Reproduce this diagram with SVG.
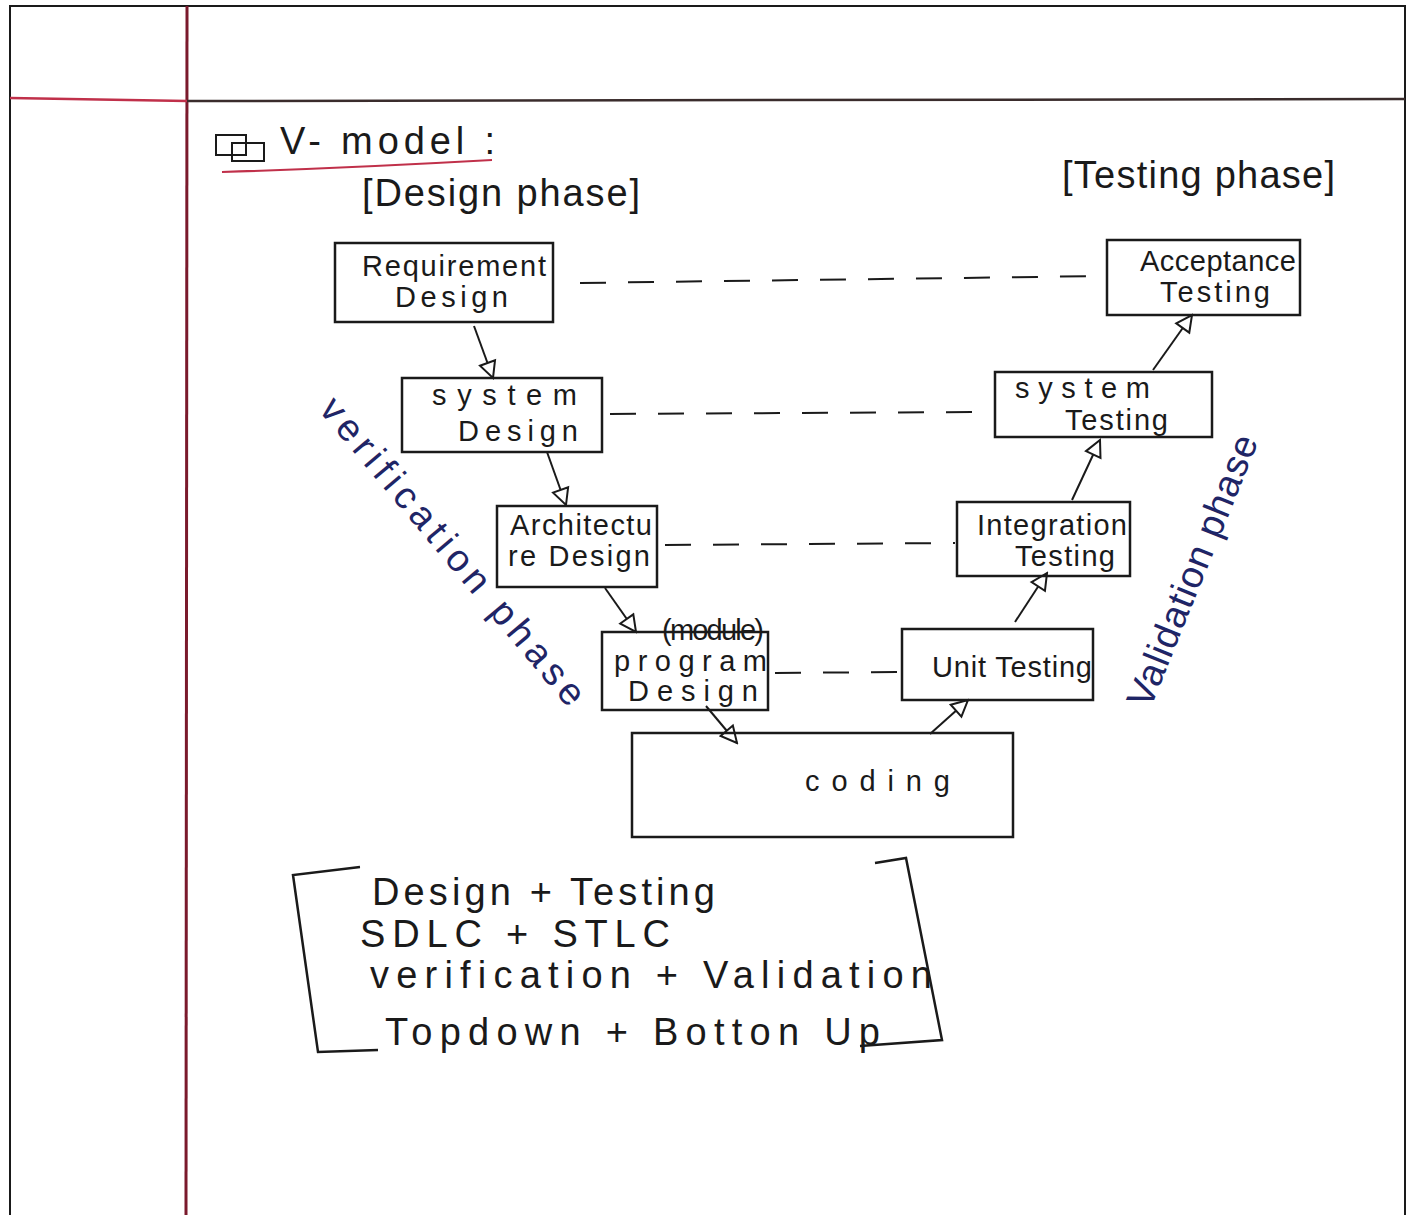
<svg xmlns="http://www.w3.org/2000/svg" width="1410" height="1215" viewBox="0 0 1410 1215">
<defs>
<style>
.page{fill:#ffffff}
.box{fill:none;stroke:#1a1a1a;stroke-width:2.5}
.t{font-family:"Liberation Sans","DejaVu Sans",sans-serif;fill:#1a1a1a;font-size:29px}
.h{font-family:"Liberation Sans","DejaVu Sans",sans-serif;fill:#1a1a1a;font-size:38px}
.blue{font-family:"Liberation Sans","DejaVu Sans",sans-serif;fill:#1f2566;font-size:38px}
.arr{stroke:#1a1a1a;stroke-width:2;fill:none;marker-end:url(#tri)}
.dash{stroke:#1a1a1a;stroke-width:2;fill:none;stroke-dasharray:26 22}
</style>
<marker id="tri" viewBox="0 0 20 20" refX="18" refY="10" markerWidth="20" markerHeight="20" markerUnits="userSpaceOnUse" orient="auto">
<path d="M2,2 L18,10 L2,18 Z" fill="#fff" stroke="#1a1a1a" stroke-width="2"/>
</marker>
</defs>
<rect class="page" x="0" y="0" width="1410" height="1215"/>
<g id="frame">
<path d="M10,1215 L10,6 L1405,6 L1405,1215" fill="none" stroke="#1a1a1a" stroke-width="2"/>
<line x1="187" y1="6" x2="186" y2="1215" stroke="#7a1a2c" stroke-width="3"/>
<line x1="10" y1="98" x2="187" y2="101" stroke="#c0304a" stroke-width="2.5"/>
<line x1="187" y1="101" x2="1405" y2="99" stroke="#3a2c2c" stroke-width="2.5"/>
</g>
<g id="title">
<rect x="216" y="135" width="30" height="20" fill="none" stroke="#1a1a1a" stroke-width="2"/>
<rect x="232" y="143" width="32" height="18" fill="none" stroke="#1a1a1a" stroke-width="2"/>
<text class="h" x="280" y="154" font-size="40" textLength="215" lengthAdjust="spacing">V- model :</text>
<path d="M222,172 Q350,168 492,160" fill="none" stroke="#c0304a" stroke-width="2"/>
<text class="h" x="362" y="206" textLength="278" lengthAdjust="spacing">[Design phase]</text>
<text class="h" x="1062" y="188" textLength="273" lengthAdjust="spacing">[Testing phase]</text>
</g>
<g id="connectors">
<line class="dash" x1="580" y1="283" x2="1105" y2="276"/>
<line class="dash" x1="610" y1="414" x2="993" y2="412"/>
<line class="dash" x1="665" y1="545" x2="955" y2="543"/>
<line class="dash" x1="775" y1="673" x2="900" y2="672"/>
<line class="arr" x1="474" y1="326" x2="493" y2="378"/>
<line class="arr" x1="547" y1="452" x2="566" y2="505"/>
<line class="arr" x1="605" y1="588" x2="636" y2="632"/>
<line class="arr" x1="706" y1="706" x2="737" y2="743"/>
<line class="arr" x1="930" y1="734" x2="968" y2="700"/>
<line class="arr" x1="1015" y1="622" x2="1047" y2="573"/>
<line class="arr" x1="1072" y1="500" x2="1100" y2="440"/>
<line class="arr" x1="1153" y1="370" x2="1192" y2="315"/>
</g>
<g id="req-design">
<rect class="box" x="335" y="243" width="218" height="79"/>
<text class="t" x="362" y="276" textLength="184" lengthAdjust="spacing">Requirement</text>
<text class="t" x="395" y="307" font-size="31" textLength="113" lengthAdjust="spacing">Design</text>
</g>
<g id="system-design">
<rect class="box" x="402" y="378" width="200" height="74"/>
<text class="t" x="432" y="405" font-size="32" textLength="145" lengthAdjust="spacing">system</text>
<text class="t" x="458" y="441" font-size="31" textLength="120" lengthAdjust="spacing">Design</text>
</g>
<g id="arch-design">
<rect class="box" x="497" y="506" width="160" height="81"/>
<text class="t" x="510" y="535" font-size="27" textLength="142" lengthAdjust="spacing">Architectu</text>
<text class="t" x="508" y="566" font-size="25" textLength="142" lengthAdjust="spacing">re Design</text>
</g>
<g id="program-design">
<rect class="box" x="602" y="632" width="166" height="78"/>
<text class="t" x="662" y="640" font-size="15" textLength="102" lengthAdjust="spacing">(module)</text>
<text class="t" x="614" y="671" font-size="29" textLength="153" lengthAdjust="spacing">program</text>
<text class="t" x="628" y="701" font-size="30" textLength="130" lengthAdjust="spacing">Design</text>
</g>
<g id="coding">
<rect class="box" x="632" y="733" width="381" height="104"/>
<text class="t" x="805" y="791" font-size="40" textLength="145" lengthAdjust="spacing">coding</text>
</g>
<g id="unit-testing">
<rect class="box" x="902" y="629" width="191" height="71"/>
<text class="t" x="932" y="677" font-size="30" textLength="160" lengthAdjust="spacing">Unit Testing</text>
</g>
<g id="integration-testing">
<rect class="box" x="957" y="502" width="173" height="74"/>
<text class="t" x="977" y="535" font-size="28" textLength="150" lengthAdjust="spacing">Integration</text>
<text class="t" x="1015" y="566" font-size="28" textLength="100" lengthAdjust="spacing">Testing</text>
</g>
<g id="system-testing">
<rect class="box" x="995" y="372" width="217" height="65"/>
<text class="t" x="1015" y="398" font-size="30" textLength="135" lengthAdjust="spacing">system</text>
<text class="t" x="1065" y="430" font-size="26" textLength="103" lengthAdjust="spacing">Testing</text>
</g>
<g id="acceptance-testing">
<rect class="box" x="1107" y="240" width="193" height="75"/>
<text class="t" x="1140" y="271" font-size="30" textLength="156" lengthAdjust="spacing">Acceptance</text>
<text class="t" x="1160" y="302" font-size="30" textLength="110" lengthAdjust="spacing">Testing</text>
</g>
<g id="phase-labels">
<text class="blue" transform="translate(318,410) rotate(50)" textLength="390" lengthAdjust="spacing">verification phase</text>
<text class="blue" transform="translate(1150,710) rotate(-68)" textLength="290" lengthAdjust="spacing">Validation phase</text>
</g>
<g id="summary">
<path d="M360,867 L293,875 L318,1052 L378,1050" fill="none" stroke="#1a1a1a" stroke-width="2.5"/>
<path d="M875,863 L906,858 L942,1040 L860,1046" fill="none" stroke="#1a1a1a" stroke-width="2.5"/>
<text class="h" x="372" y="905" font-size="40" textLength="343" lengthAdjust="spacing">Design + Testing</text>
<text class="h" x="360" y="947" font-size="40" textLength="310" lengthAdjust="spacing">SDLC + STLC</text>
<text class="h" x="370" y="988" font-size="40" textLength="562" lengthAdjust="spacing">verification + Validation</text>
<text class="h" x="385" y="1045" font-size="40" textLength="495" lengthAdjust="spacing">Topdown + Botton Up</text>
</g>
</svg>
